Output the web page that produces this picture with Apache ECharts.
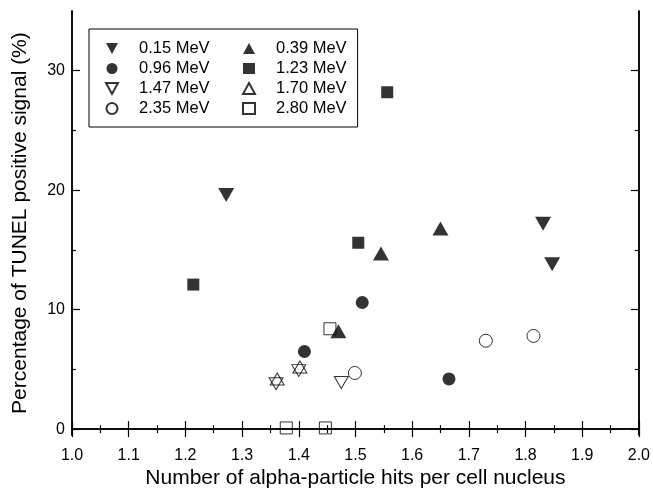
<!DOCTYPE html>
<html><head><meta charset="utf-8">
<script src="https://cdn.jsdelivr.net/npm/echarts@6/dist/echarts.min.js"></script>
<style>html,body{margin:0;padding:0;background:#fff}#c{width:653px;height:494px}</style>
</head><body><div id="c"></div>
<script>
const seriesNames = ['0.15 MeV','0.39 MeV','0.96 MeV','1.23 MeV','1.47 MeV','1.70 MeV','2.35 MeV','2.80 MeV'];
const d015 = [[1.272,19.6],[1.831,17.2],[1.847,13.8]];
const d039 = [[1.470,8.2],[1.545,14.7],[1.650,16.8]];
const d096 = [[1.410,6.5],[1.512,10.6],[1.665,4.2]];
const d123 = [[1.214,12.1],[1.505,15.6],[1.556,28.2]];
const d147 = [[1.360,3.8],[1.400,4.9],[1.475,3.9]];
const d170 = [[1.362,4.2],[1.402,5.2]];
const d235 = [[1.499,4.7],[1.730,7.4],[1.814,7.8]];
const d280 = [[1.378,0.1],[1.447,0.1],[1.455,8.4]];
const xTicks = [1.0,1.1,1.2,1.3,1.4,1.5,1.6,1.7,1.8,1.9,2.0];
const yMajor = [0,10,20,30];
const yMinor = [5,15,25];

const FONT = 'Liberation Sans';
const DOWN = 'path://M0,0L10,0L5,9Z';
const solid = {color:'#000'};
const hollow = {color:'rgba(0,0,0,0)', borderColor:'#000', borderWidth:1};
const specs = [
  {data:d015, symbol:DOWN, size:[16,14], style:solid},
  {data:d039, symbol:'triangle', size:[16,14], style:solid},
  {data:d096, symbol:'circle', size:13, style:solid},
  {data:d123, symbol:'rect', size:12, style:solid},
  {data:d147, symbol:DOWN, size:[14,12], style:hollow},
  {data:d170, symbol:'triangle', size:[14,12], style:hollow},
  {data:d235, symbol:'circle', size:13, style:hollow},
  {data:d280, symbol:'rect', size:12, style:hollow}
];
const series = specs.map((s,i)=>({
  name: seriesNames[i], type:'scatter', data:s.data, symbol:s.symbol, symbolSize:s.size,
  itemStyle:s.style, xAxisIndex:0, yAxisIndex:0, emphasis:{disabled:true}
}));

const axLine = {show:true, lineStyle:{color:'#000', width:1.5}};
const xBase = (pos, labels) => ({
  type:'value', position:pos, min:1.0, max:2.0, interval:0.1,
  axisLine: axLine,
  axisTick:{show:true, inside:true, length:8, lineStyle:{color:'#000', width:1.2}},
  minorTick:{show:true, splitNumber:2, length:4, lineStyle:{color:'#000', width:1.2}},
  splitLine:{show:false}, minorSplitLine:{show:false},
  axisLabel:{show:labels, color:'#000', fontFamily:FONT, fontSize:16, margin:12,
    formatter:v=>xTicks.find(t=>Math.abs(t-v)<1e-6)!==undefined ? v.toFixed(1) : ''}
});
const yBase = (pos, vals, len, labels) => ({
  type:'value', position:pos, min:-0.5, max:35,
  axisLine: axLine,
  axisTick:{show:true, inside:true, length:len, customValues:vals, lineStyle:{color:'#000', width:1.2}},
  axisLabel:{show:labels, customValues:vals, color:'#000', fontFamily:FONT, fontSize:16, margin:7},
  splitLine:{show:false}
});

const xMain = xBase('bottom', true);
xMain.name = 'Number of alpha-particle hits per cell nucleus';
xMain.nameLocation = 'middle';
xMain.nameGap = 32;
xMain.nameTextStyle = {color:'#000', fontFamily:FONT, fontSize:21};
const yMain = yBase('left', yMajor, 8, true);
yMain.name = 'Percentage of TUNEL positive signal (%)';
yMain.nameLocation = 'middle';
yMain.nameGap = 41;
yMain.nameTextStyle = {color:'#000', fontFamily:FONT, fontSize:21};

const legendCommon = {
  orient:'vertical', itemWidth:12, itemHeight:11, itemGap:3,
  textStyle:{color:'#000', fontFamily:FONT, fontSize:16.5, lineHeight:14, padding:[0,0,0,16]},
  selectedMode:false
};
const chart = echarts.init(document.getElementById('c'), null, {renderer:'canvas'});
chart.setOption({
  animation:false,
  backgroundColor:'#fff',
  grid:{left:72, right:14, top:11, bottom:57},
  xAxis:[xMain, xBase('top', false)],
  yAxis:[yMain, yBase('left', yMinor, 4, false), yBase('right', yMajor, 8, false), yBase('right', yMinor, 4, false)],
  legend:[
    Object.assign({}, legendCommon, {data:[seriesNames[0],seriesNames[2],seriesNames[4],seriesNames[6]],
      left:89, top:29, padding:[11,148,10,16], borderColor:'#000', borderWidth:1}),
    Object.assign({}, legendCommon, {data:[seriesNames[1],seriesNames[3],seriesNames[5],seriesNames[7]],
      left:242, top:40, padding:0})
  ],
  series: series
});
</script></body></html>
